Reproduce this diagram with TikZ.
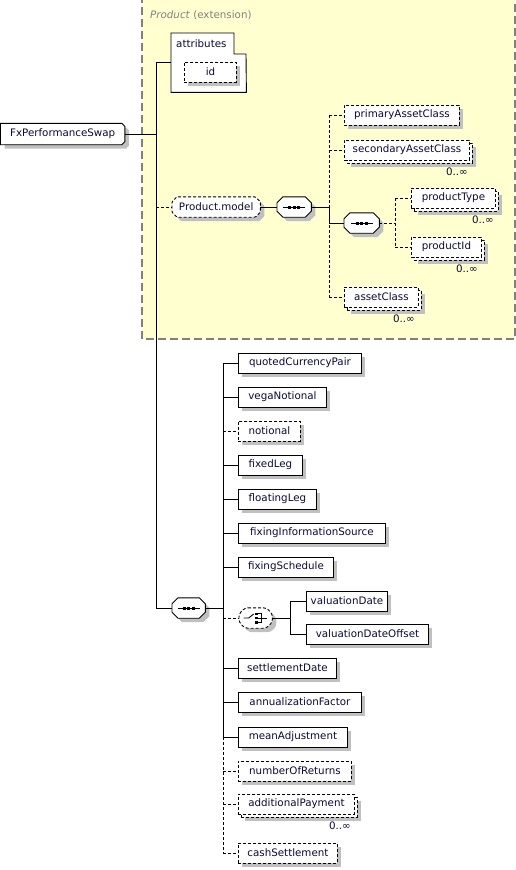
\documentclass[tikz,border=0pt]{standalone}
\usepackage{fontspec}
\newfontfamily\lbl{DejaVu Sans}
\usetikzlibrary{shadows,calc}
\definecolor{shgray}{RGB}{192,192,192}
\definecolor{ylw}{RGB}{255,255,208}
\definecolor{bord}{RGB}{128,128,128}
\definecolor{txt}{RGB}{10,10,50}
\pgfdeclarelayer{back}
\pgfdeclarelayer{mid}
\pgfsetlayers{back,mid,main}
% chamfered outline around a node: #1 node, #2 chamfer
\newcommand\champath[2]{($(#1.north west)+(#2,0)$) -- ($(#1.north east)+(-#2,0)$) -- ($(#1.north east)+(0,#2)$) -- ($(#1.south east)+(0,-#2)$) -- ($(#1.south east)+(-#2,0)$) -- ($(#1.south west)+(#2,0)$) -- ($(#1.south west)+(0,-#2)$) -- ($(#1.north west)+(0,#2)$) -- cycle}
\newcommand\chambox[3]{%
  \begin{pgfonlayer}{mid}
    \fill[shgray, transform canvas={shift={(4pt,-4pt)}}, rounded corners=#3] \champath{#1}{#2};
    \draw[line width=0.9pt, fill=white, rounded corners=#3] \champath{#1}{#2};
  \end{pgfonlayer}}
\newcommand\chamboxd[3]{%
  \begin{pgfonlayer}{mid}
    \fill[shgray, transform canvas={shift={(4pt,-4pt)}}, rounded corners=#3] \champath{#1}{#2};
    \draw[line width=0.9pt, fill=white, dash pattern=on 3pt off 2pt, rounded corners=#3] \champath{#1}{#2};
  \end{pgfonlayer}}
\begin{document}
\begin{tikzpicture}[x=1pt,y=-1pt,
  ln/.style={line width=0.9pt},
  dsh/.style={dash pattern=on 3pt off 2pt},
  fnt/.style={font=\lbl\fontsize{10.3}{12}\selectfont},
  box/.style={draw, fill=white, ln, minimum height=20pt, inner sep=0pt, anchor=west, text=txt, fnt},
  sh/.style={general shadow={fill=shgray, shadow xshift=4pt, shadow yshift=-4pt}},
  el/.style={box, sh},
  opt/.style={box, sh, dsh},
  multi/.style={box, dsh, general shadow={fill=shgray, shadow xshift=7pt, shadow yshift=-7pt}, general shadow={fill=white, draw=black, shadow xshift=3pt, shadow yshift=-3pt}},
  bare/.style={draw=none, minimum height=20pt, inner sep=0pt, anchor=west, text=txt, fnt},
  occ/.style={anchor=north east, inner sep=0pt, text=txt, fnt},
]
\useasboundingbox (0,0) rectangle (516,870);
% extension background
\begin{pgfonlayer}{back}
\path[fill=ylw, draw=bord, line width=1.2pt, dash pattern=on 8pt off 4pt] (142,-5) rectangle (515,339);
\end{pgfonlayer}
\node[anchor=base west, inner sep=0pt, text=bord, fnt] (extlbl) at (150,18) {\textit{Product} (extension)};

% root
\node[bare, minimum width=124pt, minimum height=21pt] (fx) at (0.5,134) {FxPerformanceSwap};
\begin{pgfonlayer}{mid}
  \fill[shgray, transform canvas={shift={(4pt,-4pt)}}] (fx.north west) -- ($(fx.north east)+(-3,0)$) -- ($(fx.north east)+(0,3)$) -- ($(fx.south east)+(0,-3)$) -- ($(fx.south east)+(-3,0)$) -- (fx.south west) -- cycle;
  \draw[ln, fill=white] (fx.north west) -- ($(fx.north east)+(-3,0)$) -- ($(fx.north east)+(0,3)$) -- ($(fx.south east)+(0,-3)$) -- ($(fx.south east)+(-3,0)$) -- (fx.south west) -- cycle;
\end{pgfonlayer}

% attributes
\node[anchor=north west, minimum width=75pt, minimum height=59pt, inner sep=0pt] (attr) at (171,33) {};
\draw[ln, fill=white] (attr.north west) -- ++(63,0) -- ++(0,21) -- ++(12,0) -- (attr.south east) -- (attr.south west) -- cycle;
\node[anchor=base west, inner sep=0pt, text=txt, fnt] (attrlbl) at (176,47) {attributes};
\node[opt, minimum width=52pt] (id) at (184,72) {id};

% Product.model group
\node[bare, minimum width=88pt] (pm) at (172,207) {Product.model};
\chamboxd{pm}{5}{1pt}
\node[bare, minimum width=34pt] (s1) at (277,207) {};
\chambox{s1}{6}{0pt}
\node[bare, minimum width=35pt] (s3) at (344,223) {};
\chambox{s3}{6}{0pt}
\node[opt, minimum width=115pt] (pac) at (344,115) {primaryAssetClass};
\node[multi, minimum width=125pt] (sac) at (344,150) {secondaryAssetClass};
\node[occ] (sacn) at ($(sac.south east)+(-2,7)$) {0..∞};
\node[multi, minimum width=84pt] (pt) at (411,198) {productType};
\node[occ] (ptn) at ($(pt.south east)+(-2,7)$) {0..∞};
\node[multi, minimum width=70pt] (pid) at (411,247) {productId};
\node[occ] (pidn) at ($(pid.south east)+(-4,7)$) {0..∞};
\node[multi, minimum width=74pt] (ac) at (344,297) {assetClass};
\node[occ] (acn) at ($(ac.south east)+(-4,7)$) {0..∞};

\coordinate (b1t) at (329,115);
\coordinate (b1b) at (329,297);
\coordinate (b2t) at (395,198);
\coordinate (b2b) at (395,247);
\draw[ln] (pm.east) -- (s1.west);
\draw[ln] (s1.east) -- (s1.east -| b1t);
\draw[ln,dsh] (b1t) -- (b1b);
\draw[ln] (s1.east -| b1t) -- (s3.west -| b1t) -- (s3.west);
\draw[ln,dsh] (b1t) -- (pac.west);
\draw[ln,dsh] (sac.west -| b1t) -- (sac.west);
\draw[ln,dsh] (b1b) -- (ac.west);
\draw[ln,dsh] (s3.east) -- (s3.east -| b2t);
\draw[ln,dsh] (b2t) -- (b2b);
\draw[ln,dsh] (b2t) -- (pt.west);
\draw[ln,dsh] (b2b) -- (pid.west);

% main trunk
\coordinate (t1) at (156,62);
\coordinate (t2) at (156,608);
\draw[ln] (t1) -- (t2);
\draw[ln] (fx.east) -- (fx.east -| t1);
\draw[ln] (t1) -- (attr.west |- t1);
\draw[ln,dsh] (pm.west -| t1) -- (pm.west);

\node[bare, minimum width=33pt] (s2) at (172,608) {};
\chambox{s2}{6}{0pt}
\draw[ln] (t2) -- (s2.west);

\coordinate (v1) at (223,363);
\coordinate (v2) at (223,737);
\coordinate (v3) at (223,853);

\node[el, minimum width=123pt] (qcp) at (238,363) {quotedCurrencyPair};
\node[el, minimum width=88pt] (vn) at (238,397) {vegaNotional};
\node[opt, minimum width=62pt] (nt) at (238,431) {notional};
\node[el, minimum width=64pt] (fl) at (238,465) {fixedLeg};
\node[el, minimum width=78pt] (flt) at (238,499) {floatingLeg};
\node[el, minimum width=147pt] (fis) at (238,533) {fixingInformationSource};
\node[el, minimum width=95pt] (fs) at (238,567) {fixingSchedule};
\node[bare, minimum width=33pt] (ch) at (239,618) {};
\chamboxd{ch}{6}{3pt}
\node[el, minimum width=81pt] (vd) at (306,601) {valuationDate};
\node[el, minimum width=122pt] (vdo) at (306,634) {valuationDateOffset};
\node[el, minimum width=98pt] (sd) at (238,668) {settlementDate};
\node[el, minimum width=123pt] (af) at (238,702) {annualizationFactor};
\node[el, minimum width=109pt] (ma) at (238,737) {meanAdjustment};
\node[opt, minimum width=113pt] (nr) at (238,771) {numberOfReturns};
\node[multi, minimum width=116pt] (ap) at (238,804) {additionalPayment};
\node[occ] (apn) at ($(ap.south east)+(-4,7)$) {0..∞};
\node[opt, minimum width=99pt] (cs) at (238,853) {cashSettlement};

\draw[ln] (s2.east) -- (s2.east -| v1);
\draw[ln] (v1) -- (v2);
\draw[ln,dsh] (v2) -- (v3);
\draw[ln] (v1) -- (qcp.west);
\draw[ln] (vn.west -| v1) -- (vn.west);
\draw[ln,dsh] (nt.west -| v1) -- (nt.west);
\draw[ln] (fl.west -| v1) -- (fl.west);
\draw[ln] (flt.west -| v1) -- (flt.west);
\draw[ln] (fis.west -| v1) -- (fis.west);
\draw[ln] (fs.west -| v1) -- (fs.west);
\draw[ln,dsh] (ch.west -| v1) -- (ch.west);
\draw[ln] (sd.west -| v1) -- (sd.west);
\draw[ln] (af.west -| v1) -- (af.west);
\draw[ln] (v2) -- (ma.west);
\draw[ln,dsh] (nr.west -| v1) -- (nr.west);
\draw[ln,dsh] (ap.west -| v1) -- (ap.west);
\draw[ln,dsh] (v3) -- (cs.west);

\coordinate (c1) at (290,601);
\coordinate (c2) at (290,634);
\draw[ln] (ch.east) -- (ch.east -| c1);
\draw[ln] (c1) -- (c2);
\draw[ln] (c1) -- (vd.west);
\draw[ln] (c2) -- (vdo.west);

% sequence symbols
\foreach \s in {s1,s2,s3}{
  \begin{scope}[shift={(\s.center)}]
    \draw[ln] (-11,0) -- (11,0);
    \foreach \dx in {-4.5,0,4.5}
      \fill (\dx-1.5,-1.5) rectangle (\dx+1.5,1.5);
  \end{scope}
}
% choice symbol
\begin{scope}[shift={(ch.center)}]
  \draw[ln] (-12,0) -- (-7,0) -- (-2,-4);
  \fill (-1,-5.5) rectangle (1.8,-2.7);
  \fill (-1,-1.4) rectangle (1.8,1.4);
  \fill (-1,2.7) rectangle (1.8,5.5);
  \draw[ln] (1.8,-4.1) -- (5.5,-4.1) -- (5.5,4.1) -- (1.8,4.1);
  \draw[ln] (1.8,0) -- (11,0);
\end{scope}
\end{tikzpicture}
\end{document}
